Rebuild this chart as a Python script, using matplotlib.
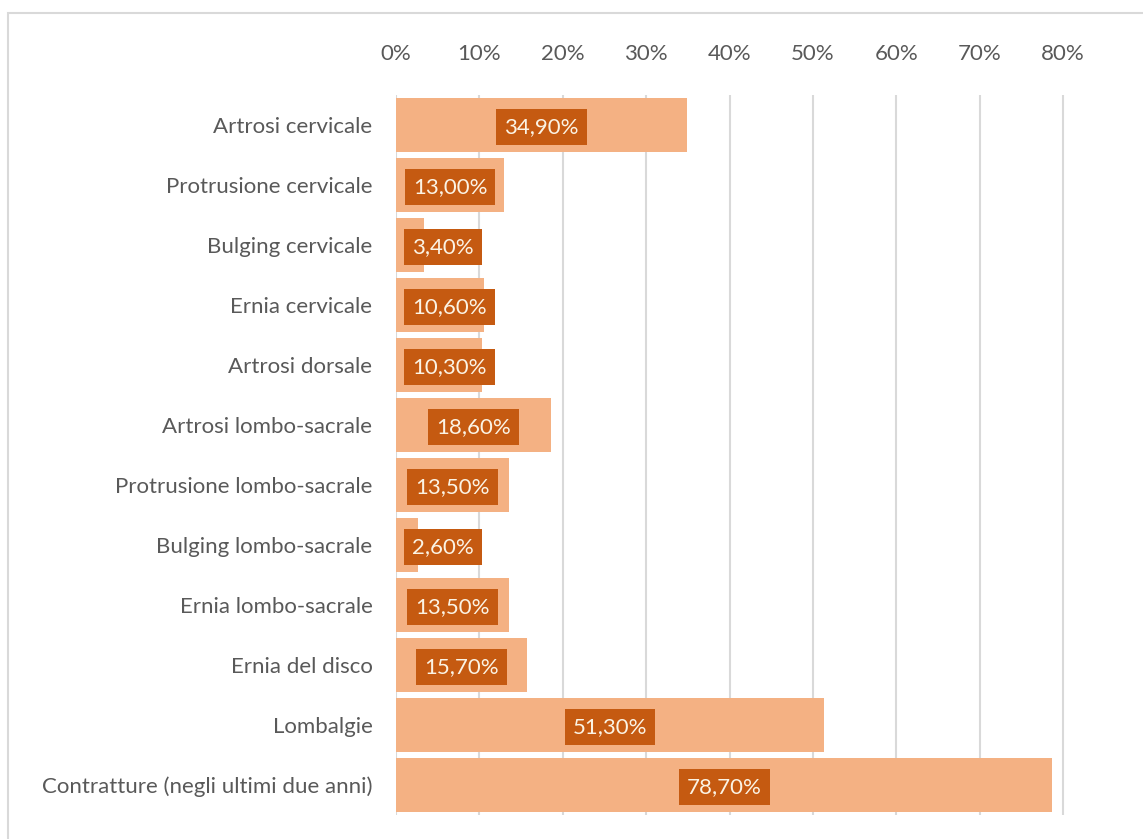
import matplotlib.pyplot as plt
from matplotlib.patches import Rectangle
from matplotlib.ticker import FuncFormatter

plt.rcParams['font.family'] = ['Lato', 'DejaVu Sans']

categories = [
    'Artrosi cervicale',
    'Protrusione cervicale',
    'Bulging cervicale',
    'Ernia cervicale',
    'Artrosi dorsale',
    'Artrosi lombo-sacrale',
    'Protrusione lombo-sacrale',
    'Bulging lombo-sacrale',
    'Ernia lombo-sacrale',
    'Ernia del disco',
    'Lombalgie',
    'Contratture (negli ultimi due anni)',
]
values = [34.9, 13.0, 3.4, 10.6, 10.3, 18.6, 13.5, 2.6, 13.5, 15.7, 51.3, 78.7]
x_ticks = [0, 10, 20, 30, 40, 50, 60, 70, 80]

BAR_COLOUR = '#F4B183'
LABEL_COLOUR = '#C55A11'
TEXT_COLOUR = '#595959'
GRID_COLOUR = '#D9D9D9'
FS = 16

fig = plt.figure(figsize=(11.43, 8.39), dpi=100)
ax = fig.add_axes([396 / 1143, 1 - 815 / 839, (1063 - 396) / 1143 * 85 / 80, 720 / 839])

y = list(range(len(categories)))
ax.barh(y, values, height=0.9, color=BAR_COLOUR, zorder=2)

ax.set_xlim(0, 85)
ax.set_ylim(len(categories) - 0.5, -0.5)
ax.set_xticks(x_ticks)
ax.xaxis.set_major_formatter(FuncFormatter(lambda v, _: f'{v:.0f}%'))
ax.xaxis.tick_top()
ax.tick_params(axis='x', length=0, pad=22, labelsize=FS, labelcolor=TEXT_COLOUR)
ax.set_yticks(y)
ax.set_yticklabels(categories)
ax.tick_params(axis='y', length=0, pad=17, labelsize=FS, labelcolor=TEXT_COLOUR)
ax.grid(axis='x', color=GRID_COLOUR, linewidth=1.5, zorder=0)
for s in ax.spines.values():
    s.set_visible(False)

# value labels: centred on the bar, pushed right if they would leave the axis
labels = []
for yi, v in zip(y, values):
    t = ax.text(v / 2, yi, f'{v:.2f}%'.replace('.', ','), ha='center', va='center_baseline',
                fontsize=FS, color='#FBF3E4', zorder=3,
                bbox=dict(boxstyle='square,pad=0.36', facecolor=LABEL_COLOUR, edgecolor='none'))
    labels.append(t)

fig.canvas.draw()
renderer = fig.canvas.get_renderer()
ax_left = ax.transData.transform((0, 0))[0]
for t in labels:
    bb = t.get_bbox_patch().get_window_extent(renderer)
    min_left = ax_left + 8
    if bb.x0 < min_left:
        shift = min_left - bb.x0
        cx = ax.transData.transform((t.get_position()[0], 0))[0] + shift
        t.set_x(ax.transData.inverted().transform((cx, 0))[0])

# light frame around the chart area
fig.patches.append(Rectangle((8 / 1143, -0.1), 1.2, 1 - 13 / 839 + 0.1, transform=fig.transFigure,
                             fill=False, edgecolor='#D9D9D9', linewidth=1.5))

fig.savefig('out.png', dpi=100)
